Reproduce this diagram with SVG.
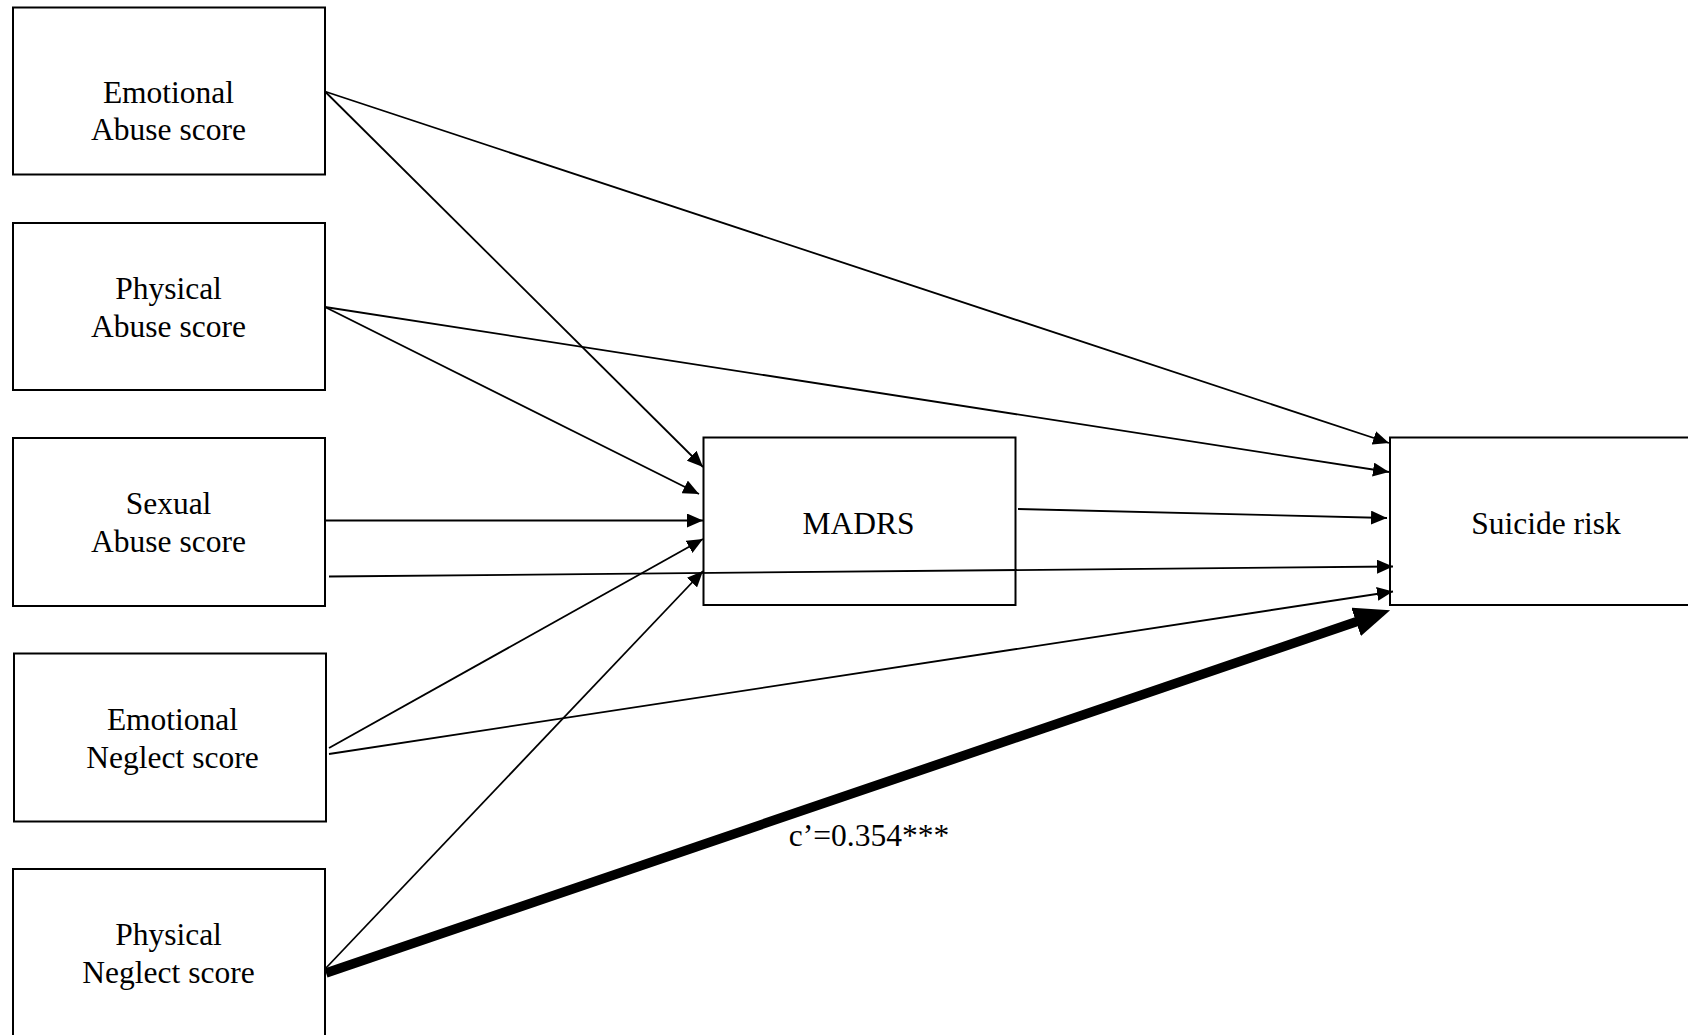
<svg xmlns="http://www.w3.org/2000/svg" width="1688" height="1035" viewBox="0 0 1688 1035">
  <style>
    .box { fill: #ffffff; stroke: #000000; stroke-width: 2; }
    .lbl { font-family: "Liberation Serif", "Times New Roman", serif; font-size: 31.5px; fill: #000000; text-anchor: middle; }
    .edge { fill: none; stroke: #000000; stroke-width: 1.8; }
    .thick { fill: none; stroke: #000000; stroke-width: 9.5; }
  </style>
  <defs>
    <marker id="arr" markerUnits="userSpaceOnUse" markerWidth="16" markerHeight="14" refX="16" refY="7" orient="auto">
      <path d="M0,0 L16,7 L0,14 z" fill="#000000"/>
    </marker>
    <marker id="arrBig" markerUnits="userSpaceOnUse" markerWidth="36" markerHeight="30" refX="1" refY="15" orient="auto">
      <path d="M0,0 L36,15 L0,30 z" fill="#000000"/>
    </marker>
  </defs>
  <rect width="1688" height="1035" fill="#ffffff"/>

  <g id="node-emotional-abuse">
    <rect class="box" x="13" y="7.5" width="312" height="167"/>
    <text class="lbl" x="168.5" y="102.5">Emotional</text>
    <text class="lbl" x="168.5" y="139.5">Abuse score</text>
  </g>
  <g id="node-physical-abuse">
    <rect class="box" x="13" y="223" width="312" height="167"/>
    <text class="lbl" x="168.5" y="298.5">Physical</text>
    <text class="lbl" x="168.5" y="336.5">Abuse score</text>
  </g>
  <g id="node-sexual-abuse">
    <rect class="box" x="13" y="438" width="312" height="168"/>
    <text class="lbl" x="168.5" y="513.5">Sexual</text>
    <text class="lbl" x="168.5" y="551.5">Abuse score</text>
  </g>
  <g id="node-emotional-neglect">
    <rect class="box" x="14" y="653.5" width="312" height="168"/>
    <text class="lbl" x="172.5" y="730">Emotional</text>
    <text class="lbl" x="172.5" y="767.5">Neglect score</text>
  </g>
  <g id="node-physical-neglect">
    <rect class="box" x="13" y="869" width="312" height="200"/>
    <text class="lbl" x="168.5" y="945">Physical</text>
    <text class="lbl" x="168.5" y="982.5">Neglect score</text>
  </g>
  <g id="node-madrs">
    <rect class="box" x="703.5" y="437.5" width="312" height="167.5"/>
    <text class="lbl" x="858.5" y="533.5">MADRS</text>
  </g>
  <g id="node-suicide-risk">
    <rect class="box" x="1390" y="437.5" width="330" height="167.5"/>
    <text class="lbl" x="1546" y="533.5">Suicide risk</text>
  </g>

  <g id="connectors">
    <line class="edge" x1="325" y1="91.5" x2="1389" y2="443" marker-end="url(#arr)"/>
    <line class="edge" x1="325" y1="91.5" x2="703" y2="467" marker-end="url(#arr)"/>
    <line class="edge" x1="325" y1="307" x2="1389" y2="472" marker-end="url(#arr)"/>
    <line class="edge" x1="325" y1="307" x2="699" y2="494" marker-end="url(#arr)"/>
    <line class="edge" x1="325" y1="520.5" x2="703" y2="520.5" marker-end="url(#arr)"/>
    <line class="edge" x1="329" y1="576.5" x2="1393" y2="566.5" marker-end="url(#arr)"/>
    <line class="edge" x1="1018" y1="509" x2="1387" y2="518" marker-end="url(#arr)"/>
    <line class="edge" x1="329" y1="748" x2="703" y2="539" marker-end="url(#arr)"/>
    <line class="edge" x1="329" y1="754" x2="1393" y2="591.5" marker-end="url(#arr)"/>
    <line class="edge" x1="326" y1="968" x2="703" y2="571" marker-end="url(#arr)"/>
    <line class="thick" x1="326" y1="973" x2="1357" y2="621.5" marker-end="url(#arrBig)"/>
    <text class="lbl" x="869" y="845.5">c’=0.354***</text>
  </g>
</svg>
